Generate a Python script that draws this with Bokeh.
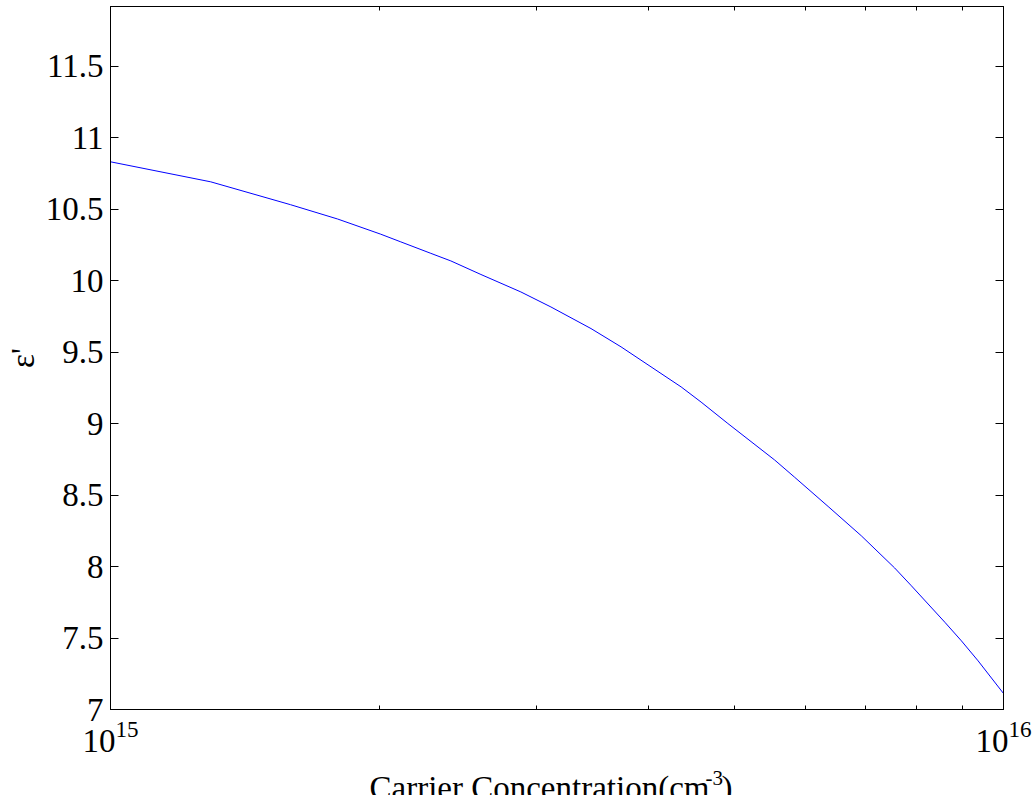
from bokeh.plotting import figure
from bokeh.layouts import column
from bokeh.models import (Range1d, FixedTicker, LogAxis, LinearAxis,
                          CustomJSTickFormatter)
from bokeh.core.properties import value
from bokeh.embed import file_html
from bokeh.resources import INLINE

# ---- data ----
carrier_conc = [1.0e15, 1.295e15, 1.591e15, 1.796e15, 2.007e15, 2.114e15,
                2.284e15, 2.405e15, 2.599e15, 2.881e15, 3.113e15, 3.452e15,
                3.73e15, 4.355e15, 4.585e15, 4.913e15, 5.542e15, 5.834e15,
                6.362e15, 6.93e15, 7.552e15, 7.886e15, 8.597e15, 8.972e15,
                9.367e15, 1.0e16]
eps_real = [10.83, 10.69, 10.53, 10.43, 10.324, 10.27,
            10.19, 10.137, 10.042, 9.92, 9.815, 9.664,
            9.536, 9.256, 9.15, 9.0, 8.745, 8.625,
            8.42, 8.215, 7.99, 7.865, 7.61, 7.48,
            7.34, 7.112]

x_major = [1e15, 1e16]
x_minor = [2e15, 3e15, 4e15, 5e15, 6e15, 7e15, 8e15, 9e15]
y_ticks = [7, 7.5, 8, 8.5, 9, 9.5, 10, 10.5, 11, 11.5]

y_title = "ε'"
x_title_main = "Carrier Concentration(cm"
x_title_sup = "-3"
x_title_end = ")"

FONT = "Liberation Serif"
FS = "33px"
W, H = 1032, 762
FL, FT, FW, FH = 110, 6, 893, 703

p = figure(width=W, height=H, x_axis_type="log", title=None,
           x_range=Range1d(1e15, 1e16), y_range=Range1d(7, 7 + FH / 143),
           output_backend="svg", toolbar_location=None,
           min_border_left=FL, min_border_right=W - FL - FW, min_border_top=FT,
           min_border_bottom=H - FT - FH)
p.xgrid.visible = False
p.ygrid.visible = False
p.outline_line_color = "black"
p.outline_line_width = 1
p.background_fill_color = "white"
p.border_fill_color = "white"

p.line(carrier_conc, eps_real, line_color="#0000ff", line_width=1)

xt = FixedTicker(ticks=x_major, minor_ticks=x_minor)
yt = FixedTicker(ticks=y_ticks, minor_ticks=[])

xa = p.xaxis[0]
xa.ticker = xt
xa.major_tick_in = 8
xa.major_tick_out = 0
xa.minor_tick_in = 4
xa.minor_tick_out = 0
xa.major_label_standoff = 11
xa.major_label_text_font = FONT
xa.major_label_text_font_size = FS
xa.major_label_text_color = "black"
xa.axis_line_color = "black"

ya = p.yaxis[0]
ya.ticker = yt
ya.formatter = CustomJSTickFormatter(code="return String(tick);")
ya.major_tick_in = 8
ya.major_tick_out = 0
ya.minor_tick_in = 0
ya.minor_tick_out = 0
ya.major_label_standoff = 7
ya.major_label_text_font = FONT
ya.major_label_text_font_size = FS
ya.major_label_text_color = "black"
ya.axis_line_color = "black"
ya.axis_label = y_title
ya.axis_label_text_font = FONT
ya.axis_label_text_font_size = FS
ya.axis_label_text_font_style = "normal"
ya.axis_label_text_color = "black"
ya.axis_label_standoff = 2

blank = CustomJSTickFormatter(code="return '';")
top = LogAxis(ticker=xt, formatter=blank, major_tick_in=8, major_tick_out=0,
              minor_tick_in=4, minor_tick_out=0,
              major_label_text_font_size="1px", major_label_text_alpha=0,
              major_label_standoff=0, axis_line_color="black")
right = LinearAxis(ticker=yt, formatter=blank, major_tick_in=8,
                   major_tick_out=0, minor_tick_in=0, minor_tick_out=0,
                   major_label_text_font_size="1px", major_label_text_alpha=0,
                   major_label_standoff=0, axis_line_color="black")
p.add_layout(top, "above")
p.add_layout(right, "right")

# ---- x-axis title strip (with superscript); its frame lines up with p's ----
LH = 33
q = figure(width=W, height=LH, x_range=Range1d(FL, FL + FW), title=None,
           y_range=Range1d(0, LH),
           output_backend="svg", toolbar_location=None,
           x_axis_location=None, y_axis_location=None,
           min_border_left=FL, min_border_right=W - FL - FW,
           min_border_top=0, min_border_bottom=0)
q.xgrid.visible = False
q.ygrid.visible = False
q.outline_line_color = None
q.background_fill_color = "white"
q.border_fill_color = "white"
q.text(x=[369], y=[8], text=[x_title_main], text_font=value(FONT),
       text_font_size=FS, text_color="black", text_align="left",
       text_baseline="alphabetic")
q.text(x=[705], y=[18], text=[x_title_sup], text_font=value(FONT),
       text_font_size="21px", text_color="black", text_align="left",
       text_baseline="alphabetic")
q.text(x=[721], y=[8], text=[x_title_end], text_font=value(FONT),
       text_font_size=FS, text_color="black", text_align="left",
       text_baseline="alphabetic")

layout = column(p, q, spacing=0)
open("out.html", "w").write(file_html(layout, INLINE))
